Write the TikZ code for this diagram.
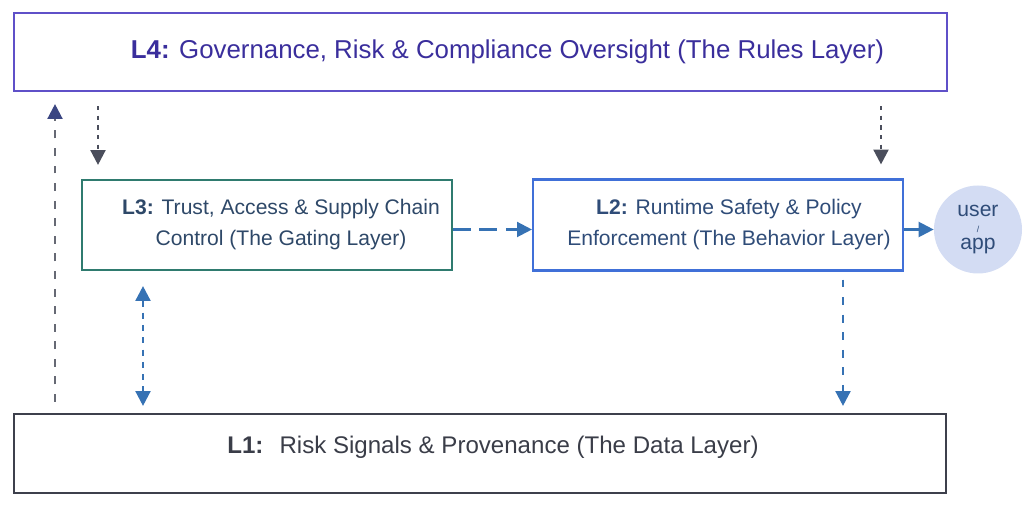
\documentclass[tikz,border=0pt]{standalone}
\usepackage{fontspec}
\setmainfont{Liberation Sans}
\usetikzlibrary{arrows.meta}
\definecolor{rules}{HTML}{5F50C8}
\definecolor{rulestext}{HTML}{3A2E9C}
\definecolor{gate}{HTML}{2F7B6F}
\definecolor{gatetext}{HTML}{2E4868}
\definecolor{behav}{HTML}{4070D8}
\definecolor{behavtext}{HTML}{2F4C78}
\definecolor{data}{HTML}{3D404C}
\definecolor{datatext}{HTML}{3A3D48}
\definecolor{flow}{HTML}{3672B4}
\definecolor{slate}{HTML}{4B4E5C}
\definecolor{navy}{HTML}{3B4682}
\definecolor{client}{HTML}{D3DCF3}
\tikzset{
  layer/.style={draw, line width=1.2pt, inner sep=0pt},
  ltext/.style={align=center, inner sep=0pt},
  tip/.style={-{Triangle[length=8.5pt,width=8.5pt]}},
  dotline/.style={draw=slate, line width=1.4pt, dash pattern=on 2.5pt off 3pt, tip},
  upline/.style={draw=slate!85, line width=1.3pt, dash pattern=on 4.5pt off 5.5pt,
    -{Triangle[length=8.5pt,width=8.5pt,color=navy]}},
  bline/.style={draw=flow, line width=1.4pt, dash pattern=on 4.5pt off 5.5pt, tip},
  bbline/.style={draw=flow, line width=1.4pt, dash pattern=on 3.5pt off 3.5pt,
    {Triangle[length=8.5pt,width=8.5pt]}-{Triangle[length=8.5pt,width=8.5pt]}},
  gline/.style={draw=flow, line width=1.3pt, dash pattern=on 10pt off 5pt, tip},
  sline/.style={draw=flow, line width=1.3pt, tip}
}

\begin{document}
\begin{tikzpicture}
  \useasboundingbox (0,0) rectangle (20.48,10.22);

  % layers
  \node[layer, draw=rules, minimum width=18.66cm, minimum height=1.56cm] (L4) at (9.61,9.18) {};
  \node[layer, draw=gate, minimum width=7.4cm, minimum height=1.8cm] (L3) at (5.34,5.72) {};
  \node[layer, draw=behav, minimum width=7.4cm, minimum height=1.82cm] (L2) at (14.36,5.72) {};
  \node[layer, draw=data, minimum width=18.64cm, minimum height=1.58cm] (L1) at (9.6,1.15) {};
  \node[circle, fill=client, minimum size=1.76cm, inner sep=0pt, align=center,
        text=behavtext, font=\fontsize{12}{11}\selectfont] (user) at (19.56,5.63)
        {user\\[-1.5pt]{\fontsize{5}{5}\selectfont /}\\[-1.5pt]app};

  % texts
  \node[ltext, text=rulestext, font=\fontsize{14.7}{17}\selectfont, xshift=0.54cm] (L4t) at (L4)
    {\textbf{L4:} Governance, Risk \& Compliance Oversight (The Rules Layer)};
  \node[ltext, text=gatetext, font=\fontsize{12}{17.6}\selectfont, xshift=0.28cm] (L3t) at (L3)
    {\textbf{L3:} Trust, Access \& Supply Chain\\Control (The Gating Layer)};
  \node[ltext, text=behavtext, font=\fontsize{12}{17.6}\selectfont, xshift=0.22cm] (L2t) at (L2)
    {\textbf{L2:} Runtime Safety \& Policy\\Enforcement (The Behavior Layer)};
  \node[ltext, text=datatext, font=\fontsize{13.7}{16}\selectfont, xshift=0.26cm, yshift=0.12cm] (L1t) at (L1)
    {\textbf{L1:}\hspace{0.3em} Risk Signals \& Provenance (The Data Layer)};

  % connectors
  \coordinate (upx) at (1.1,0);
  \coordinate (g3x) at (1.96,0);
  \coordinate (g2x) at (17.62,0);
  \coordinate (d3x) at (2.86,0);
  \coordinate (d2x) at (16.86,0);

  \draw[upline, shorten <=0.22cm, shorten >=0.24cm] (L1.north -| upx) -- (L4.south -| upx);
  \draw[dotline, shorten <=0.28cm, shorten >=0.28cm] (L4.south -| g3x) -- (L3.north -| g3x);
  \draw[dotline, shorten <=0.28cm, shorten >=0.28cm] (L4.south -| g2x) -- (L2.north -| g2x);
  \draw[bbline, shorten <=0.3cm, shorten >=0.14cm] (L3.south -| d3x) -- (L1.north -| d3x);
  \draw[bline, shorten <=0.16cm, shorten >=0.14cm] (L2.south -| d2x) -- (L1.north -| d2x);
  \draw[gline] (L3.east |- user) -- (L2.west |- user);
  \draw[sline] (L2.east |- user) -- (user.west);
\end{tikzpicture}
\end{document}
